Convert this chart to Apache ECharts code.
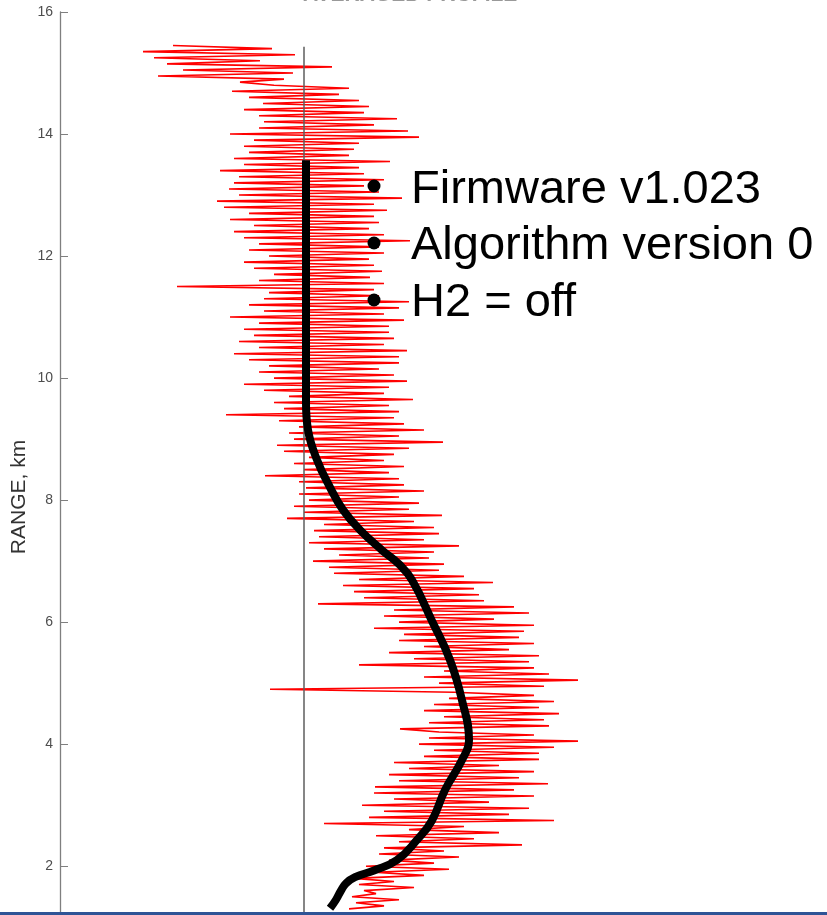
<!DOCTYPE html>
<html>
<head>
<meta charset="utf-8">
<script src="https://cdn.jsdelivr.net/npm/echarts@6/dist/echarts.min.js"></script>
<style>
html,body{margin:0;padding:0;background:#fff;}
#chart{width:827px;height:915px;}
</style>
</head>
<body>
<div id="chart"></div>
<script>
// ---- data ----
var yTicks = [2, 4, 6, 8, 10, 12, 14, 16];

// raw (noisy) profile: range in km, value in plot units
var redRange = [
1.3,1.35,1.4,1.45,1.5,1.55,1.6,1.65,1.7,1.75,
1.8,1.85,1.9,1.95,2,2.05,2.1,2.15,2.2,2.25,
2.3,2.35,2.4,2.45,2.5,2.55,2.6,2.65,2.7,2.75,
2.8,2.85,2.9,2.95,3,3.05,3.1,3.15,3.2,3.25,
3.3,3.35,3.4,3.45,3.5,3.55,3.6,3.65,3.7,3.75,
3.8,3.85,3.9,3.95,4,4.05,4.1,4.15,4.2,4.25,
4.3,4.35,4.4,4.45,4.5,4.55,4.6,4.65,4.7,4.75,
4.8,4.85,4.9,4.95,5,5.05,5.1,5.15,5.2,5.25,
5.3,5.35,5.4,5.45,5.5,5.55,5.6,5.65,5.7,5.75,
5.8,5.85,5.9,5.95,6,6.05,6.1,6.15,6.2,6.25,
6.3,6.35,6.4,6.45,6.5,6.55,6.6,6.65,6.7,6.75,
6.8,6.85,6.9,6.95,7,7.05,7.1,7.15,7.2,7.25,
7.3,7.35,7.4,7.45,7.5,7.55,7.6,7.65,7.7,7.75,
7.8,7.85,7.9,7.95,8,8.05,8.1,8.15,8.2,8.25,
8.3,8.35,8.4,8.45,8.5,8.55,8.6,8.65,8.7,8.75,
8.8,8.85,8.9,8.95,9,9.05,9.1,9.15,9.2,9.25,
9.3,9.35,9.4,9.45,9.5,9.55,9.6,9.65,9.7,9.75,
9.8,9.85,9.9,9.95,10,10.05,10.1,10.15,10.2,10.25,
10.3,10.35,10.4,10.45,10.5,10.55,10.6,10.65,10.7,10.75,
10.8,10.85,10.9,10.95,11,11.05,11.1,11.15,11.2,11.25,
11.3,11.35,11.4,11.45,11.5,11.55,11.6,11.65,11.7,11.75,
11.8,11.85,11.9,11.95,12,12.05,12.1,12.15,12.2,12.25,
12.3,12.35,12.4,12.45,12.5,12.55,12.6,12.65,12.7,12.75,
12.8,12.85,12.9,12.95,13,13.05,13.1,13.15,13.2,13.25,
13.3,13.35,13.4,13.45,13.5,13.55,13.6,13.65,13.7,13.75,
13.8,13.85,13.9,13.95,14,14.05,14.1,14.15,14.2,14.25,
14.3,14.35,14.4,14.45,14.5,14.55,14.6,14.65,14.7,14.75,
14.8,14.85,14.9,14.95,15,15.05,15.1,15.15,15.2,15.25,
15.3,15.35,15.4,15.45
];
var redValue = [
0.45,0.80,0.52,0.95,0.48,0.72,0.60,1.10,0.55,0.90,
0.50,1.20,0.70,1.45,0.62,1.30,0.85,1.55,0.75,1.40,
0.80,2.18,0.95,1.70,0.72,1.95,1.05,1.60,0.20,2.50,
0.65,2.05,0.80,2.25,0.58,1.85,0.90,2.30,0.70,2.10,
0.71,2.44,0.95,2.15,0.85,2.30,1.05,1.95,0.90,2.35,
1.20,2.35,1.30,2.50,1.15,2.74,1.25,2.30,1.35,0.96,
2.45,1.25,2.40,1.40,2.55,1.20,2.35,1.30,2.50,1.45,
2.30,1.50,-0.34,2.40,1.35,2.74,1.20,2.45,1.40,2.30,
0.55,2.25,1.10,2.35,0.85,2.05,1.20,2.30,0.95,2.15,
1.00,2.20,0.70,2.30,0.95,1.90,0.80,2.25,0.90,2.10,
0.14,1.80,0.60,1.75,0.50,1.70,0.39,1.89,0.55,1.60,
0.30,1.35,0.25,1.40,0.09,1.25,0.35,1.30,0.20,1.55,
0.05,1.20,0.15,1.35,0.10,1.30,0.20,1.10,-0.17,1.38,
0.00,1.05,-0.10,1.15,0.05,0.95,-0.05,1.20,0.02,1.00,
-0.05,0.95,-0.39,0.85,0.00,1.00,-0.10,0.80,0.05,0.90,
-0.20,1.05,-0.27,1.39,-0.10,0.95,-0.15,1.20,-0.05,1.00,
-0.25,0.90,-0.78,0.95,-0.20,0.85,-0.30,1.09,-0.15,0.80,
-0.40,0.85,-0.60,1.03,-0.30,0.90,-0.45,0.75,-0.35,0.95,
-0.55,0.95,-0.70,1.03,-0.45,0.80,-0.65,0.90,-0.50,0.85,
-0.60,0.85,-0.45,1.00,-0.74,0.80,-0.40,0.95,-0.55,1.05,
-0.40,0.75,-0.35,0.70,-1.27,0.80,-0.45,0.66,-0.30,0.78,
-0.50,0.70,-0.60,0.65,-0.35,0.80,-0.55,0.75,-0.45,1.06,
-0.60,0.80,-0.70,0.65,-0.50,0.75,-0.74,0.70,-0.55,0.83,
-0.80,0.70,-0.87,0.98,-0.65,0.75,-0.75,0.60,-0.70,0.80,
-0.65,0.60,-0.84,0.55,-0.60,0.86,-0.70,0.45,-0.55,0.50,
-0.60,0.55,-0.50,1.15,-0.74,1.04,-0.45,0.70,-0.40,0.93,
-0.45,0.60,-0.60,0.65,-0.41,0.55,-0.55,0.35,-0.72,0.45,
-0.30,-0.64,-0.20,-1.46,-0.11,-1.21,0.28,-1.37,-0.44,-1.50,
-0.09,-1.61,-0.32,-1.31
];

// smoothed profile
var blackRange = [13.57,10.50,9.60,9.15,8.66,8.21,7.84,7.51,7.18,6.95,6.69,6.02,5.38,4.72,4.07,3.74,3.25,2.75,2.43,2.10,1.93,1.82,1.72,1.60,1.45,1.31];
var blackValue = [0.02,0.02,0.02,0.04,0.13,0.26,0.39,0.56,0.78,0.95,1.08,1.28,1.46,1.58,1.65,1.58,1.41,1.28,1.13,0.93,0.70,0.51,0.42,0.37,0.32,0.26];

// zero reference line
var zeroRange = [1.2, 15.43];
var zeroValue = [0, 0];

var bulletLines = ['Firmware v1.023', 'Algorithm version 0', 'H2 = off'];
var titleText = 'AVERAGED PROFILE';
var yAxisName = 'RANGE, km';

// ---- chart ----
function pairs(vals, ranges) { return ranges.map(function (r, i) { return [vals[i], r]; }); }

var chart = echarts.init(document.getElementById('chart'), null, {renderer: 'canvas'});

var FONT = "'Liberation Sans', Arial, Helvetica, sans-serif";
var graphics = [
  {type: 'text', x: 303, y: 6, z: 100, style: {text: titleText, font: 'bold 21px ' + FONT, fill: '#999999', textAlign: 'left', textVerticalAlign: 'bottom'}},
  {type: 'text', x: 19, y: 497, rotation: Math.PI / 2, z: 100, style: {text: yAxisName, font: '21px ' + FONT, fill: '#333333', textAlign: 'center', textVerticalAlign: 'middle'}},
  {type: 'rect', shape: {x: 0, y: 912, width: 827, height: 3}, z: 100, style: {fill: '#2f5496'}}
];
var baselines = [214, 270, 327];
var bulletY = [186, 243, 300];
bulletLines.forEach(function (t, i) {
  graphics.push({type: 'circle', shape: {cx: 374, cy: bulletY[i], r: 6.5}, z: 100, style: {fill: '#000'}});
  graphics.push({type: 'text', x: 411, y: baselines[i], z: 100, style: {text: t, font: '47px ' + FONT, fill: '#000', textAlign: 'left', textVerticalAlign: 'bottom'}});
});

var option = {
  animation: false,
  backgroundColor: '#ffffff',
  grid: {left: 60, right: 0, top: 12, bottom: 0, containLabel: false, outerBoundsMode: 'none'},
  xAxis: {type: 'value', min: -2.44, max: 5.23, show: false},
  yAxis: {
    type: 'value', min: 1.2, max: 16, position: 'left',
    axisLine: {show: true, onZero: false, lineStyle: {color: '#7f7f7f', width: 1.3}},
    axisTick: {show: true, inside: true, length: 8, customValues: yTicks, lineStyle: {color: '#7f7f7f', width: 1}},
    axisLabel: {customValues: yTicks, color: '#4d4d4d', fontSize: 14, fontFamily: FONT, margin: 7},
    splitLine: {show: false}
  },
  series: [
    {type: 'line', data: pairs(redValue, redRange), showSymbol: false, symbol: 'none', z: 1,
     lineStyle: {color: '#ff0000', width: 1.6}},
    {type: 'line', data: pairs(zeroValue, zeroRange), showSymbol: false, symbol: 'none', z: 2,
     lineStyle: {color: '#5e5e5e', width: 1.5}},
    {type: 'line', data: pairs(blackValue, blackRange), showSymbol: false, symbol: 'none', z: 3, smooth: 0.45,
     lineStyle: {color: '#000000', width: 8, cap: 'butt', join: 'round'}}
  ],
  graphic: graphics
};
chart.setOption(option);
</script>
</body>
</html>
